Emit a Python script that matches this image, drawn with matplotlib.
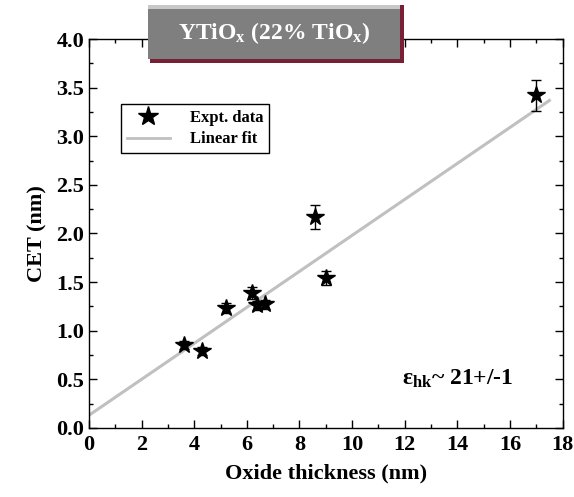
import numpy as np
import matplotlib.pyplot as plt
from matplotlib.lines import Line2D
from matplotlib.patches import Rectangle
from matplotlib.ticker import MultipleLocator

plt.rcParams['font.family'] = ['Liberation Serif', 'DejaVu Serif']
plt.rcParams['font.weight'] = 'bold'
plt.rcParams['mathtext.fontset'] = 'custom'
plt.rcParams['mathtext.rm'] = 'Liberation Serif:bold'
plt.rcParams['mathtext.it'] = 'Liberation Serif:bold'
plt.rcParams['mathtext.bf'] = 'Liberation Serif:bold'

# measured CET vs physical oxide thickness
thickness = [3.6, 4.3, 5.2, 6.2, 6.4, 6.7, 8.6, 9.0, 17.0]
cet = [0.85, 0.79, 1.23, 1.39, 1.26, 1.27, 2.17, 1.54, 3.42]
cet_err = [0.04, 0.04, 0.05, 0.06, 0.05, 0.05, 0.12, 0.07, 0.16]

# linear fit parameters
fit_intercept = 0.13
fit_slope = 0.185
fit_x = [0.0, 17.5]

fig = plt.figure(figsize=(5.74, 4.97), dpi=100)
ax = fig.add_axes([0.155, 0.139, 0.825, 0.7825])

fx = np.array(fit_x)
ax.plot(fx, fit_intercept + fit_slope * fx, color='#c0c0c0', lw=2.2, zorder=2)
ax.errorbar(thickness, cet, yerr=cet_err, fmt='*', color='black', ms=13,
            ecolor='black', elinewidth=1, capsize=3.5, capthick=1, zorder=3)

ax.set_xlim(0, 18)
ax.set_ylim(0, 4)
ax.xaxis.set_major_locator(MultipleLocator(2))
ax.xaxis.set_minor_locator(MultipleLocator(1))
ax.yaxis.set_major_locator(MultipleLocator(0.5))
ax.yaxis.set_minor_locator(MultipleLocator(0.25))
ax.yaxis.set_major_formatter(plt.FormatStrFormatter('%.1f'))
ax.tick_params(which='both', direction='in', top=True, right=True,
               labelsize=16, width=1)
ax.tick_params(which='major', length=6)
ax.tick_params(which='minor', length=3)
ax.tick_params(axis='x', pad=5)
for s in ax.spines.values():
    s.set_linewidth(1)

ax.set_xlabel('Oxide thickness (nm)', fontsize=16, fontweight='bold', labelpad=6)
ax.set_ylabel('CET (nm)', fontsize=16, fontweight='bold', labelpad=6)

handles = [Line2D([], [], marker='*', ls='none', color='black', ms=15),
           Line2D([], [], color='#c0c0c0', lw=2)]
leg = ax.legend(handles, ['Expt. data', 'Linear fit'], loc='upper left',
                bbox_to_anchor=(0.05, 0.855), fancybox=False, edgecolor='black',
                framealpha=1, fontsize=12, handlelength=2.6, borderpad=0.35,
                labelspacing=0.35, handletextpad=1.2)
leg.get_frame().set_linewidth(1)

ax.text(0.66, 0.125, r'$\varepsilon_{hk}$~ 21+/-1', transform=ax.transAxes,
        fontsize=17, fontweight='bold', ha='left', va='center')

# title banner with shadow
fig.patches.append(Rectangle((0.262, 0.873), 0.442, 0.117, transform=fig.transFigure,
                             facecolor='#7a2036', edgecolor='none', zorder=5))
fig.patches.append(Rectangle((0.257, 0.882), 0.44, 0.108, transform=fig.transFigure,
                             facecolor='#7f7f7f', edgecolor='none', zorder=6))
fig.patches.append(Rectangle((0.257, 0.982), 0.44, 0.008, transform=fig.transFigure,
                             facecolor='#c8c8c8', edgecolor='none', zorder=6))
fig.text(0.477, 0.934, r'YTiO$_x$ (22% TiO$_x$)', color='white', fontsize=17,
         fontweight='bold', ha='center', va='center', zorder=7)

fig.savefig('out.png', dpi=100)
